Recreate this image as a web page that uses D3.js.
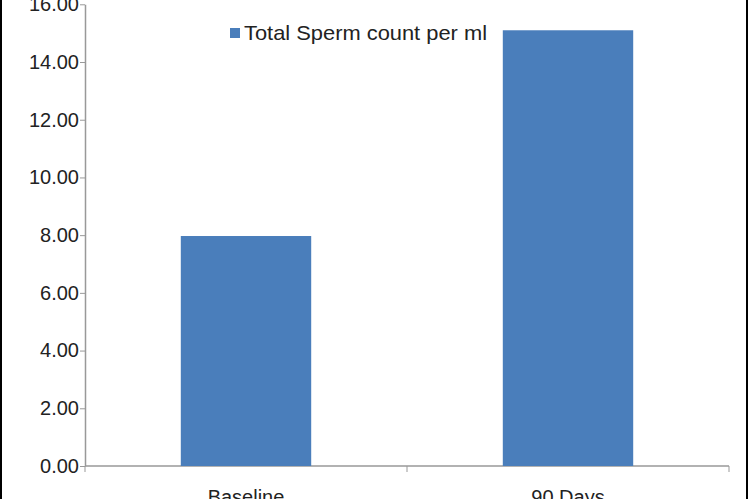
<!DOCTYPE html>
<html><head><meta charset="utf-8">
<script src="https://cdn.jsdelivr.net/npm/d3@7"></script>
<style>body{margin:0;background:#fff}svg{display:block}text{font-family:"Liberation Sans Narrow","Arial Narrow","Liberation Sans",Arial,sans-serif;fill:#222}</style>
</head><body><svg id="c" width="750" height="499"></svg>
<script>
const categories = ["Baseline", "90 Days"];
const values = [7.97, 15.1];
const yTicks = [0, 2, 4, 6, 8, 10, 12, 14, 16];
const seriesName = "Total Sperm count per ml";

const svg = d3.select("#c");
const W = 750, H = 499;
svg.append("rect").attr("x",1).attr("y",-2).attr("width",746).attr("height",H+4)
  .attr("fill","none").attr("stroke","#000").attr("stroke-width",2);
const m = {l:85, r:729, t:4.3, b:466};
const x = d3.scaleBand().domain(categories).range([m.l, m.r]).paddingInner(0.595).paddingOuter(0.2975);
const y = d3.scaleLinear().domain([0,16]).range([m.b, m.t]);

const ya = svg.append("g").attr("transform",`translate(${m.l},0)`)
  .call(d3.axisLeft(y).tickValues(yTicks).tickFormat(d3.format(".2f")).tickSize(5).tickSizeOuter(0));
ya.select(".domain").attr("stroke","#999").attr("stroke-width",1.5);
ya.selectAll(".tick line").attr("stroke","#999");
ya.selectAll(".tick text").attr("font-size",20).attr("x",-6).attr("fill","#222");

const xa = svg.append("g").attr("transform",`translate(0,${m.b})`);
xa.append("line").attr("x1",m.l).attr("x2",m.r).attr("stroke","#999").attr("stroke-width",1.5);
const bounds = [m.l, (m.l+m.r)/2, m.r];
xa.selectAll(".xt").data(bounds).enter().append("line")
  .attr("x1",d=>d).attr("x2",d=>d).attr("y1",0).attr("y2",6).attr("stroke","#999");
xa.selectAll(".xl").data(categories).enter().append("text")
  .attr("x",d=>x(d)+x.bandwidth()/2).attr("y",38).attr("text-anchor","middle")
  .attr("font-size",20).text(d=>d);

svg.selectAll(".bar").data(values).enter().append("rect")
  .attr("x",(d,i)=>x(categories[i])).attr("width",x.bandwidth())
  .attr("y",d=>y(d)).attr("height",d=>y(0)-y(d)).attr("fill","#4a7ebb");

svg.append("rect").attr("x",230).attr("y",28).attr("width",10).attr("height",10).attr("fill","#4a7ebb");
svg.append("text").attr("x",244).attr("y",40).attr("font-size",21)
  .attr("textLength",243).attr("lengthAdjust","spacingAndGlyphs").text(seriesName);
</script></body></html>
